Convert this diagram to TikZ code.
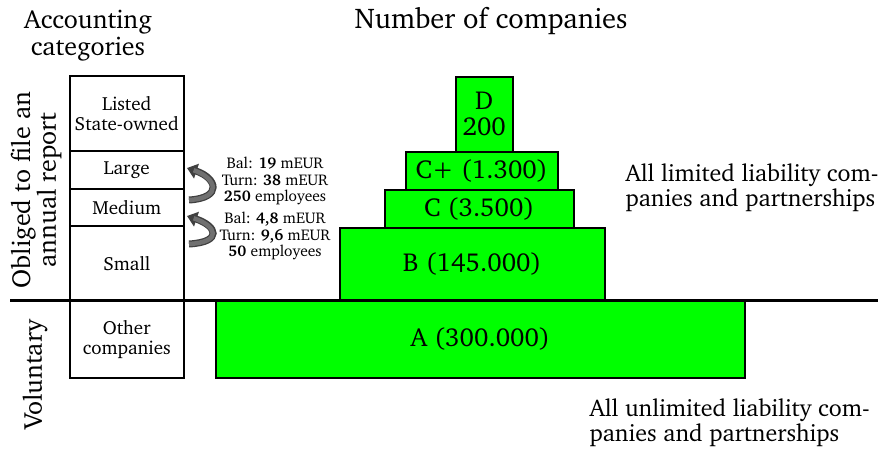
\documentclass[tikz,border=0pt]{standalone}
\usepackage[T1]{fontenc}
\usepackage{charter}
\usetikzlibrary{arrows.meta}
\definecolor{pgreen}{RGB}{0,255,0}
\definecolor{arrowfill}{RGB}{112,112,112}
\definecolor{arrowedge}{RGB}{64,64,64}
\tikzset{
  catbox/.style={draw=black, line width=1.5pt, fill=white, anchor=north west, align=center, inner sep=0pt, font=\fontsize{19}{20}\selectfont},
  grbox/.style={draw=black, line width=1.5pt, fill=pgreen, anchor=north west, align=center, inner sep=0pt, font=\fontsize{26}{26}\selectfont},
  heading/.style={align=center, font=\fontsize{28.5}{26}\selectfont},
  sidelabel/.style={align=center, rotate=90, font=\fontsize{26}{21}\selectfont},
  note/.style={align=center, font=\fontsize{15.5}{16.5}\selectfont},
  rtext/.style={align=left, anchor=west, font=\fontsize{24}{25}\selectfont},
}
\begin{document}
\begin{tikzpicture}[x=1pt,y=-1pt]
\useasboundingbox (0,0) rectangle (885,450);
% headings
\node[heading, font=\fontsize{26}{27}\selectfont] (hacc) at (88,35) {Accounting\\categories};
\node[heading] (hnum) at (491,21) {Number of companies};
\node[sidelabel] (obl) at (36,190) {Obliged to file an\\annual report};
\node[sidelabel] (vol) at (35,375) {Voluntary};
% category boxes
\node[catbox, minimum width=114pt, minimum height=75pt] (listed) at (69,75) {Listed\\State-owned};
\node[catbox, minimum width=114pt, minimum height=38pt] (large) at (69,150) {Large};
\node[catbox, minimum width=114pt, minimum height=37pt] (medium) at (69,188) {Medium};
\node[catbox, minimum width=114pt, minimum height=75pt] (small) at (69,225) {Small};
\node[catbox, minimum width=114pt, minimum height=77pt] (other) at (69,300) {Other\\companies};
% green pyramid
\node[grbox, minimum width=57pt, minimum height=75pt] (D) at (455,76) {D\\200};
\node[grbox, minimum width=152pt, minimum height=38pt] (Cp) at (405,151) {C+ (1.300)};
\node[grbox, minimum width=189pt, minimum height=38pt] (C) at (384,189) {C (3.500)};
\node[grbox, minimum width=265pt, minimum height=73pt] (B) at (339,227) {B (145.000)};
\node[grbox, minimum width=529pt, minimum height=77pt] (A) at (215,300) {A (300.000)};
% dividing line
\coordinate (l1) at (10,300);
\coordinate (l2) at (878,300);
\draw[line width=3pt] (l1) -- (l2);
% thresholds
\node[note] (n1) at (275,181) {Bal: \textbf{19} mEUR\\Turn: \textbf{38} mEUR\\\textbf{250} employees};
\node[note] (n2) at (275,236) {Bal: \textbf{4,8} mEUR\\Turn: \textbf{9,6} mEUR\\\textbf{50} employees};
% curved arrows
\coordinate (a1s) at (189,200);
\coordinate (a1e) at (187,168);
\coordinate (a2s) at (189,244);
\coordinate (a2e) at (187,216);
\foreach \s/\e in {a1s/a1e, a2s/a2e}{
  \draw[line width=7pt, arrowedge, -{Triangle[length=10pt,width=15pt]}] (\s) .. controls ++(34,-2) and ++(30,10) .. (\e);
  \draw[line width=4.5pt, arrowfill, shorten >=7pt] (\s) .. controls ++(34,-2) and ++(30,10) .. (\e);
}
% right texts
\node[rtext] (lim) at (622,188) {All limited liability com-\\panies and partnerships};
\node[rtext] (unlim) at (586,423) {All unlimited liability com-\\panies and partnerships};
\end{tikzpicture}
\end{document}
